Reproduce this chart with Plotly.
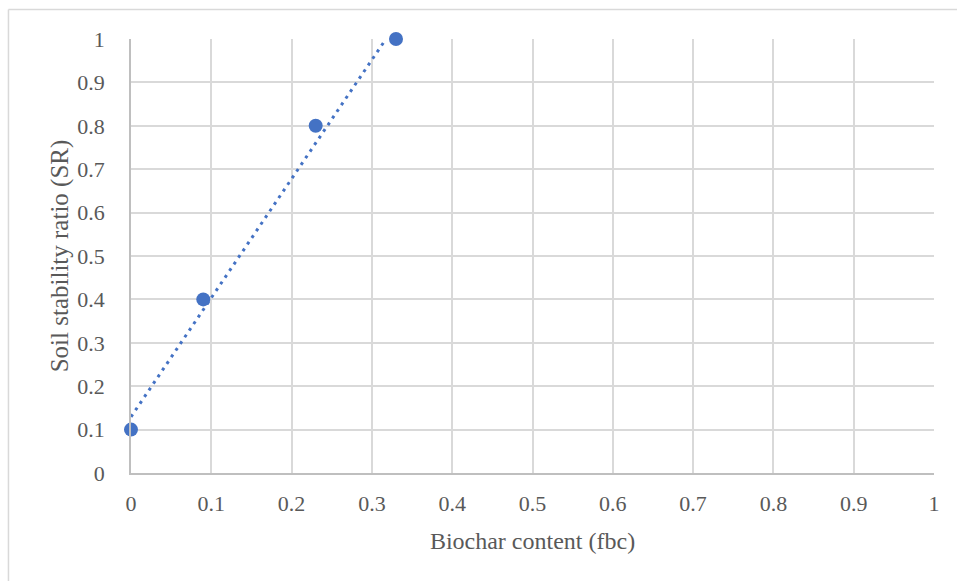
import numpy as np
import plotly.graph_objects as go

# Biochar content vs soil stability ratio
biochar = [0.0, 0.09, 0.23, 0.33]
stability = [0.1, 0.4, 0.8, 1.0]
tick_vals = [0, 0.1, 0.2, 0.3, 0.4, 0.5, 0.6, 0.7, 0.8, 0.9, 1]
tick_text = ["0", "0.1", "0.2", "0.3", "0.4", "0.5", "0.6", "0.7", "0.8", "0.9", "1"]

# Linear trendline over the data range
slope, intercept = np.polyfit(biochar, stability, 1)
trend_x = np.linspace(min(biochar), max(biochar), 50)
trend_y = slope * trend_x + intercept
mask = trend_y <= 1.0
trend_x, trend_y = trend_x[mask], trend_y[mask]

blue = "#4472C4"
fig = go.Figure()
fig.add_trace(go.Scatter(
    x=trend_x, y=trend_y, mode="lines",
    line=dict(color=blue, width=3, dash="3px,5px"),
    hoverinfo="skip", showlegend=False,
))
fig.add_trace(go.Scatter(
    x=biochar, y=stability, mode="markers",
    marker=dict(color=blue, size=14),
    showlegend=False, cliponaxis=False,
))

font = dict(family="Liberation Serif, Times New Roman, serif", color="#595959")
axis_common = dict(
    range=[0, 1], tickvals=tick_vals, ticktext=tick_text,
    showgrid=True, gridcolor="#D9D9D9", gridwidth=1.5,
    zeroline=False, showline=True, linecolor="#BFBFBF", linewidth=1.5,
    ticks="", tickfont=dict(size=22, **font), mirror=False,
)
fig.update_xaxes(**axis_common, ticklabelstandoff=10,
                 title=dict(text="Biochar content (fbc)", font=dict(size=24, **font), standoff=17))
fig.update_yaxes(**axis_common, ticklabelstandoff=20,
                 title=dict(text="Soil stability ratio (SR)", font=dict(size=25, **font), standoff=2))

# Light frame around the chart (left and top edges)
frame = dict(type="line", xref="paper", yref="paper", line=dict(color="#D9D9D9", width=1.5))
fig.add_shape(**frame, x0=-0.1526, x1=-0.1526, y0=-0.3, y1=1.068)
fig.add_shape(**frame, x0=-0.1526, x1=1.1, y0=1.068, y1=1.068)

fig.update_layout(
    width=957, height=581,
    margin=dict(l=131, r=23, t=39, b=108),
    plot_bgcolor="white", paper_bgcolor="white",
    font=font,
)
fig.write_html("out.html")
